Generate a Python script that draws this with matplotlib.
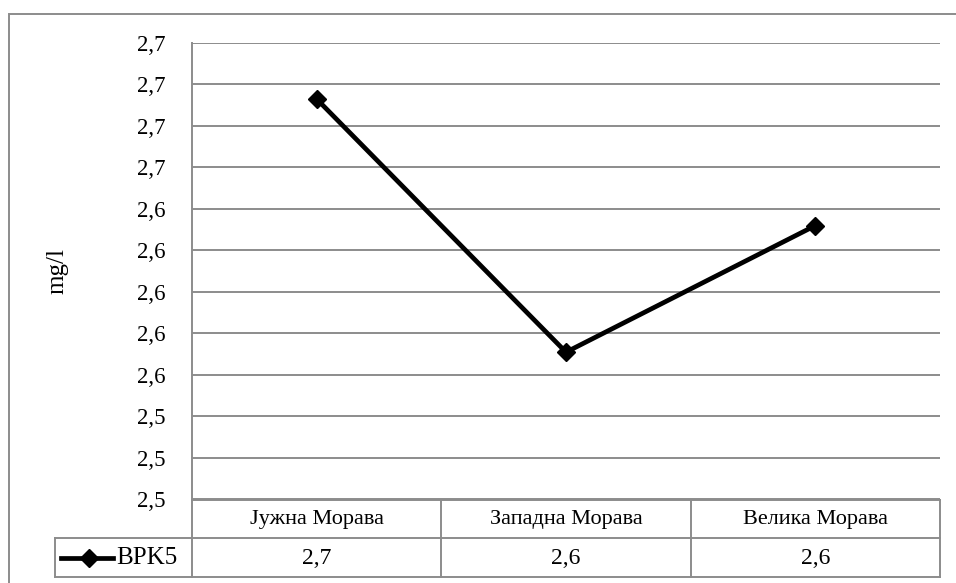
import matplotlib.pyplot as plt
from matplotlib.lines import Line2D
from matplotlib.patches import Rectangle
import numpy as np

plt.rcParams['font.family'] = ['Liberation Serif', 'DejaVu Serif']

# data
categories = ['Јужна Морава', 'Западна Морава', 'Велика Морава']
bpk5 = [2.693, 2.571, 2.632]
series_name = 'BPK5'
yticks = [2.50, 2.52, 2.54, 2.56, 2.58, 2.60, 2.62, 2.64, 2.66, 2.68, 2.70, 2.72]

W, H = 956, 583
fig = plt.figure(figsize=(W / 100, H / 100), dpi=100)

def fx(px):
    return px / W

def fy(py):
    return 1 - py / H

grid_col = '#8c8c8c'
left, right, top, bot = 192, 940, 43, 499.5
ax = fig.add_axes([fx(left), fy(bot), fx(right - left), fy(top) - fy(bot)])

x = np.arange(len(categories))
ax.plot(x, bpk5, color='black', lw=3.4, marker='D', markersize=9.5, zorder=3)
ax.set_xlim(-0.5, len(categories) - 0.5)
ax.set_ylim(yticks[0], yticks[-1])
ax.set_yticks(yticks)
ax.set_yticklabels([f'{v:.1f}'.replace('.', ',') for v in yticks], fontsize=16.5)
ax.set_xticks([])
ax.tick_params(axis='y', length=0, pad=19)
ax.yaxis.grid(True, color=grid_col, lw=1.4)
ax.set_axisbelow(True)
for s in ['top', 'right', 'bottom']:
    ax.spines[s].set_visible(False)
ax.spines['left'].set_color(grid_col)
ax.spines['left'].set_linewidth(1.4)
ax.set_ylabel('mg/l', fontsize=18, labelpad=0)
ax.yaxis.set_label_coords((68 - left) / (right - left), 0.5)

# outer chart border
fig.patches.append(Rectangle((fx(9), fy(600)), fx(1000), fy(14) - fy(600),
                             transform=fig.transFigure, fill=False,
                             edgecolor=grid_col, lw=1.4, clip_on=False))

# data table
row1, row2, row3 = 499.5, 538, 577
legend_left = 55
cell_w = (right - left) / len(categories)

def hline(y, x0, x1):
    fig.add_artist(Line2D([fx(x0), fx(x1)], [fy(y), fy(y)], color=grid_col, lw=1.4))

def vline(xp, y0, y1):
    fig.add_artist(Line2D([fx(xp), fx(xp)], [fy(y0), fy(y1)], color=grid_col, lw=1.4))

hline(row1, left, right)
hline(row2, legend_left, right)
hline(row3, legend_left, right)
vline(legend_left, row2, row3)
for i in range(len(categories) + 1):
    vline(left + i * cell_w, row1, row3)

for i, (cat, val) in enumerate(zip(categories, bpk5)):
    cx = left + (i + 0.5) * cell_w
    fig.text(fx(cx), fy((row1 + row2) / 2 + 1), cat, ha='center', va='center', fontsize=16)
    fig.text(fx(cx), fy((row2 + row3) / 2 + 1), f'{val:.1f}'.replace('.', ','),
             ha='center', va='center', fontsize=17)

ly = (row2 + row3) / 2
fig.add_artist(Line2D([fx(61), fx(113)], [fy(ly), fy(ly)], color='black', lw=3.4))
fig.add_artist(Line2D([fx(89)], [fy(ly)], color='black', marker='D', markersize=9.5, lw=0))
fig.text(fx(116), fy(ly + 1), series_name, ha='left', va='center', fontsize=18)

fig.savefig('out.png', dpi=100)
